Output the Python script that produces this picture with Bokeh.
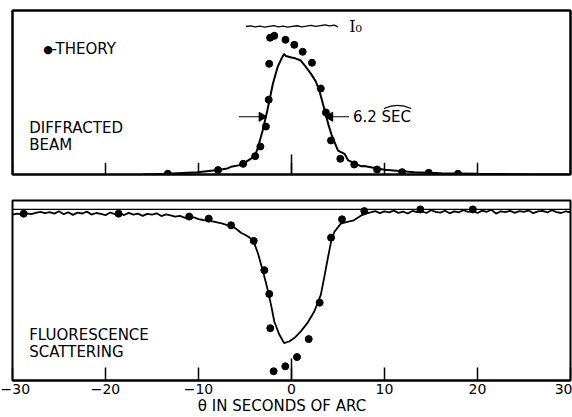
from bokeh.plotting import figure
from bokeh.layouts import column
from bokeh.models import Span, FixedTicker, Label, Range1d, LinearAxis
from bokeh.embed import file_html
from bokeh.resources import INLINE
import math

FONT = "DejaVu Sans"

# ---------------- data ----------------
x_ticks = [-30, -20, -10, 0, 10, 20, 30]
center_tick = [0]

# top panel: diffracted beam (I / I0)
theory_top_x = [-13.3, -7.9, -5.2, -3.9, -3.35, -2.75, -2.45, -2.4, -2.3, -1.85, -0.65, 0.3,
                1.2, 2.2, 3.15, 3.7, 4.25, 5.25, 6.75, 9.2, 11.9, 14.75, 17.9]
theory_top_y = [0.005, 0.030, 0.072, 0.124, 0.189, 0.324, 0.505, 0.748, 0.924, 0.937, 0.910, 0.876,
                0.829, 0.755, 0.581, 0.419, 0.230, 0.106, 0.068, 0.034, 0.016, 0.011, 0.005]

meas_top_x = [-16.0, -13.3, -10.1, -7.9, -6.9, -6.5, -5.4, -4.4, -3.9, -3.6, -3.1, -2.6, -2.0,
              -1.5, -1.1, -0.8, -0.6, -0.3, 0.0, 0.4, 1.0, 1.5, 2.1, 2.6, 3.0, 3.5, 4.0, 4.3,
              5.0, 5.7, 6.1, 6.6, 7.5, 7.8, 10.0, 13.2, 16.1, 20.0, 26.0, 30.0]
meas_top_y = [0.0, 0.005, 0.016, 0.030, 0.041, 0.052, 0.065, 0.105, 0.130, 0.184, 0.297, 0.432, 0.613,
              0.725, 0.780, 0.815, 0.800, 0.795, 0.790, 0.785, 0.770, 0.730, 0.680, 0.630, 0.566, 0.450, 0.330, 0.270,
              0.162, 0.140, 0.095, 0.082, 0.055, 0.058, 0.032, 0.016, 0.009, 0.005, 0.0, 0.0]

i0_x = [-4.9, -4.4, -3.9, -3.4, -2.9, -2.4, -1.9, -1.4, -0.9, -0.4, 0.1, 0.6, 1.1, 1.6, 2.1,
        2.6, 3.1, 3.6, 4.1, 4.6, 5.0]
i0_y = [1.000, 1.004, 0.997, 1.002, 0.996, 1.001, 1.006, 0.998, 1.003, 0.995, 1.001, 1.005,
        0.997, 1.002, 1.008, 1.000, 1.006, 1.011, 1.004, 1.009, 0.998]

fwhm_left = -2.75
fwhm_right = 3.7
half_level = 0.39
width_text = "6.2"
width_unit = "SEC"

# bottom panel: fluorescence scattering
theory_bot_x = [-28.8, -18.6, -11.0, -8.9, -6.5, -4.06, -2.92, -2.39, -2.28, -1.92, -0.67, 0.59,
                1.85, 3.03, 4.25, 5.43, 7.83, 13.85, 19.5]
theory_bot_y = [0.975, 0.975, 0.958, 0.946, 0.907, 0.816, 0.645, 0.506, 0.306, 0.054, 0.083, 0.137,
                0.242, 0.455, 0.835, 0.942, 0.990, 1.000, 1.000]

fl_left_x = [-30.0, -29.5, -29.0, -28.5, -28.0, -27.5, -27.0, -26.5, -26.0, -25.5, -25.0, -24.5,
             -24.0, -23.5, -23.0, -22.5, -22.0, -21.5, -21.0, -20.5, -20.0, -19.5, -19.0, -18.5,
             -18.0, -17.5, -17.0, -16.5, -16.0, -15.5, -15.0, -14.5, -14.0, -13.5, -13.0, -12.5, -12.0]
fl_left_y = [0.970, 0.975, 0.971, 0.977, 0.973, 0.980, 0.986, 0.978, 0.984, 0.975, 0.989, 0.972,
             0.983, 0.968, 0.981, 0.976, 0.987, 0.970, 0.979, 0.974, 0.966, 0.982, 0.972, 0.978,
             0.967, 0.980, 0.970, 0.975, 0.962, 0.974, 0.969, 0.977, 0.961, 0.971, 0.965, 0.958, 0.962]
fl_mid_x = [-11.5, -11.0, -10.5, -10.0, -9.5, -9.0, -8.5, -8.0, -7.5, -7.0, -6.5, -6.0, -5.4, -5.0,
            -4.5, -4.1, -3.6, -3.1, -2.6, -2.2, -1.85, -1.3, -0.8, -0.25, 0.3, 1.0, 1.7, 2.45, 3.15,
            3.5, 3.9, 4.25, 4.6, 5.3, 6.0, 6.7, 7.5, 8.0]
fl_mid_y = [0.952, 0.945, 0.954, 0.943, 0.938, 0.935, 0.930, 0.924, 0.918, 0.910, 0.905, 0.888, 0.862, 0.852,
            0.835, 0.816, 0.742, 0.645, 0.539, 0.442, 0.345, 0.267, 0.219, 0.228, 0.248, 0.287, 0.335, 0.403, 0.500,
            0.597, 0.713, 0.810, 0.868, 0.917, 0.927, 0.936, 0.965, 0.975]
fl_right_x = [8.5, 9.0, 9.5, 10.0, 10.5, 11.0, 11.5, 12.0, 12.5, 13.0, 13.5, 14.0, 14.5, 15.0, 15.5,
              16.0, 16.5, 17.0, 17.5, 18.0, 18.5, 19.0, 19.5, 20.0, 20.5, 21.0, 21.5, 22.0, 22.5, 23.0,
              23.5, 24.0, 24.5, 25.0, 25.5, 26.0, 26.5, 27.0, 27.5, 28.0, 28.5, 29.0, 29.5, 30.0]
fl_right_y = [0.982, 0.990, 0.978, 0.988, 0.983, 0.993, 0.980, 0.987, 0.976, 0.991, 0.984, 0.989, 0.979, 0.995, 0.986,
              0.981, 0.992, 0.977, 0.988, 0.983, 0.996, 0.985, 0.990, 0.979, 0.993, 0.986, 0.998, 0.975, 0.989, 0.984,
              0.992, 0.980, 0.990, 0.985, 0.994, 0.978, 0.988, 0.991, 0.982, 0.995, 0.984, 0.979, 0.989, 0.983]
fl_x = fl_left_x + fl_mid_x + fl_right_x
fl_y = fl_left_y + fl_mid_y + fl_right_y
ref_level = 1.0

x_title = "θ  IN  SECONDS  OF  ARC"


def style(p):
    p.xgrid.visible = False
    p.ygrid.visible = False
    p.outline_line_color = "black"
    p.outline_line_width = 2
    p.outline_line_alpha = 1
    p.background_fill_color = "white"
    p.border_fill_color = "white"


def border_axis(p, side):
    # a tick-less, label-less axis used only to draw the panel's edge line
    a = LinearAxis(ticker=FixedTicker(ticks=[]), axis_line_width=2, axis_line_color="black",
                   major_tick_in=0, major_tick_out=0, minor_tick_in=0, minor_tick_out=0,
                   major_label_standoff=0)
    p.add_layout(a, side)


def lab(p, x, y, text, font=FONT, size="15px"):
    p.add_layout(Label(x=x, y=y, text=text, text_font=font, text_font_size=size,
                       text_baseline="middle", text_color="black"))


# ---------------- top panel ----------------
YT = 1.108
XR = (-30, 30)
p1 = figure(width=572, height=187, x_range=Range1d(*XR), y_range=Range1d(0, YT),
            output_backend="svg", toolbar_location=None, y_axis_location=None, x_axis_location=None,
            min_border_left=12, min_border_right=2, min_border_top=10, min_border_bottom=13)
style(p1)
for side in ("left", "right", "above", "below"):
    border_axis(p1, side)

# inward ticks on the bottom edge
p1.segment(x0=x_ticks, y0=[0] * len(x_ticks), x1=x_ticks, y1=[0.08] * len(x_ticks),
           line_color="black", line_width=1.5)
p1.segment(x0=center_tick, y0=[0], x1=center_tick, y1=[0.135], line_color="black", line_width=1.5)
p1.line(meas_top_x, meas_top_y, line_color="black", line_width=2)
p1.scatter(theory_top_x, theory_top_y, size=7, color="black")
p1.line(i0_x, i0_y, line_color="black", line_width=1.3)
lab(p1, 6.2, 1.0, "I₀", font="DejaVu Serif", size="16px")
lab(p1, -26.7, 0.845, "●", size="11px")
lab(p1, -25.8, 0.845, "-THEORY")
lab(p1, -28.2, 0.311, "DIFFRACTED")
lab(p1, -28.2, 0.196, "BEAM")

# width marker arrows at half maximum
p1.segment(x0=[fwhm_left - 2.9, fwhm_right + 2.5], y0=[half_level, half_level],
           x1=[fwhm_left - 0.5, fwhm_right + 0.5], y1=[half_level, half_level],
           line_color="black", line_width=1.2)
p1.scatter(x=[fwhm_left - 0.45, fwhm_right + 0.45], y=[half_level, half_level], marker="triangle",
           angle=[-math.pi / 2, math.pi / 2], size=9, color="black")
lab(p1, 6.6, half_level, width_text + " " + width_unit)
# arc (angular-seconds sign) over the unit
p1.quadratic(x0=[9.95], y0=[0.446], x1=[12.85], y1=[0.446], cx=[11.4], cy=[0.488],
             line_color="black", line_width=1.3)

# ---------------- bottom panel ----------------
YB = 1.052
p2 = figure(width=572, height=230, x_range=Range1d(*XR), y_range=Range1d(0, YB),
            output_backend="svg", toolbar_location=None, y_axis_location=None,
            min_border_left=12, min_border_right=2, min_border_top=13, min_border_bottom=36)
style(p2)
ax = p2.xaxis[0]
ax.ticker = FixedTicker(ticks=x_ticks)
ax.major_tick_in = 13
ax.major_tick_out = 0
ax.minor_tick_line_color = None
ax.major_tick_line_width = 1.5
ax.major_tick_line_color = "black"
ax.axis_line_width = 2
ax.axis_line_color = "black"
ax.major_label_text_font = FONT
ax.major_label_text_font_size = "14px"
ax.major_label_text_color = "black"
ax.major_label_standoff = 3
ax.axis_label = x_title
ax.axis_label_text_font = FONT
ax.axis_label_text_font_size = "15px"
ax.axis_label_text_font_style = "normal"
ax.axis_label_text_color = "black"
ax.axis_label_standoff = 0

p2.add_layout(Span(location=ref_level, dimension="width", line_color="black", line_width=1.3))
p2.segment(x0=center_tick, y0=[0], x1=center_tick, y1=[0.128], line_color="black", line_width=1.5)
p2.line(fl_x, fl_y, line_color="black", line_width=1.8)
p2.scatter(theory_bot_x, theory_bot_y, size=7, color="black")
lab(p2, -28.2, 0.265, "FLUORESCENCE")
lab(p2, -28.2, 0.169, "SCATTERING")

layout = column(p1, p2, spacing=0)
open("out.html", "w").write(file_html(layout, INLINE))
